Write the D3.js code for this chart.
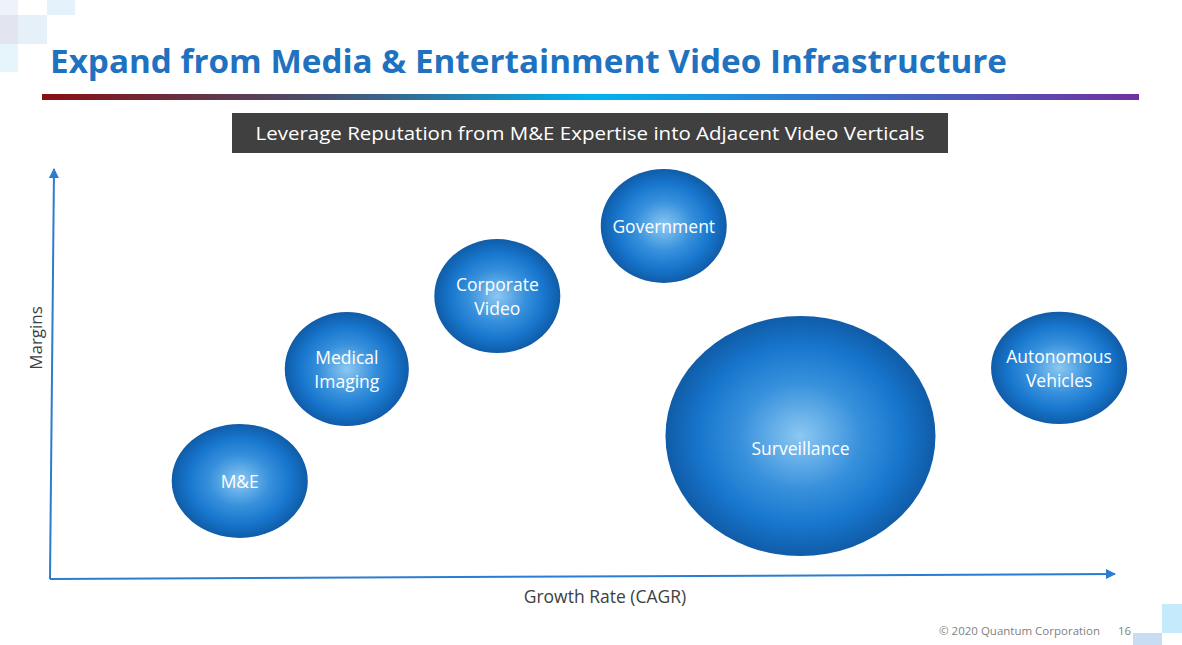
<!DOCTYPE html>
<html>
<head>
<meta charset="utf-8">
<script src="https://cdn.jsdelivr.net/npm/d3@7"></script>
<style>
  body { margin: 0; background: #fff; }
  text { font-family: "Open Sans", "Noto Sans", sans-serif; }
</style>
</head>
<body>
<div id="plot"></div>
<script>
// bubble chart data
const names = ["M&E", "Medical Imaging", "Corporate Video", "Government", "Surveillance", "Autonomous Vehicles"];
const growth = [17.9, 28.0, 42.2, 57.9, 70.8, 95.2];   // x: Growth Rate (CAGR)
const margins = [23.8, 51.2, 69.1, 86.3, 34.8, 51.5];  // y: Margins
const sizeW = [5.67, 5.17, 5.25, 5.25, 11.25, 5.67];   // bubble width
const sizeH = [4.75, 4.75, 4.75, 4.75, 10, 4.67];      // bubble height

const w = 1182;
const h = 645;
const origin = {x: 50, y: 579};

const svg = d3.select("div#plot")
  .append("svg")
    .attr("width", w)
    .attr("height", h);

const defs = svg.append("defs");

const grad = defs.append("radialGradient")
    .attr("id", "bubble")
    .attr("cx", "50%").attr("cy", "50%").attr("r", "50%");
grad.append("stop").attr("offset", "0%").attr("stop-color", "#8cc8f2");
grad.append("stop").attr("offset", "45%").attr("stop-color", "#3790dc");
grad.append("stop").attr("offset", "75%").attr("stop-color", "#1776cd");
grad.append("stop").attr("offset", "100%").attr("stop-color", "#105ca8");

const line = defs.append("linearGradient")
    .attr("id", "rule")
    .attr("x1", "0%").attr("x2", "100%");
[["0%", "#8a0e12"], ["25%", "#4a4d6c"], ["50%", "#00b3f0"], ["75%", "#3d6ec8"], ["100%", "#7131a0"]]
  .forEach(s => line.append("stop").attr("offset", s[0]).attr("stop-color", s[1]));

const arrow = defs.append("marker")
    .attr("id", "arrow")
    .attr("viewBox", "0 0 10 10")
    .attr("refX", 9).attr("refY", 5)
    .attr("markerWidth", 5).attr("markerHeight", 5)
    .attr("markerUnits", "strokeWidth")
    .attr("orient", "auto");
arrow.append("path").attr("d", "M0,0L10,5L0,10Z").attr("fill", "#2a7dd0");

// corner squares
const squares = [
  [0, 0, 18, 15, "#eef3fa"], [47, 0, 28, 15, "#e4f3fb"],
  [0, 15, 18, 29, "#e2e5f0"], [18, 15, 29, 29, "#e5f0f9"],
  [0, 44, 18, 28, "#e6f4fb"],
  [1162, 604, 20, 29, "#c5eafc"], [1133, 633, 29, 12, "#c8dcf2"]
];
svg.selectAll("rect.sq")
  .data(squares)
  .enter().append("rect")
    .attr("class", "sq")
    .attr("x", d => d[0]).attr("y", d => d[1])
    .attr("width", d => d[2]).attr("height", d => d[3])
    .attr("fill", d => d[4]);

// title
svg.append("text")
    .attr("x", 50).attr("y", 73)
    .attr("font-size", 33)
    .attr("font-weight", "bold")
    .attr("fill", "#1f72c0")
    .attr("textLength", 957)
    .attr("lengthAdjust", "spacingAndGlyphs")
    .text("Expand from Media & Entertainment Video Infrastructure");

svg.append("rect")
    .attr("x", 42).attr("y", 94)
    .attr("width", 1097).attr("height", 6)
    .attr("fill", "url(#rule)");

// subtitle box
svg.append("rect")
    .attr("x", 232).attr("y", 113)
    .attr("width", 716).attr("height", 40)
    .attr("fill", "#404040");
svg.append("text")
    .attr("x", 590).attr("y", 140)
    .attr("text-anchor", "middle")
    .attr("font-size", 19)
    .attr("fill", "#fff")
    .attr("textLength", 669)
    .attr("lengthAdjust", "spacingAndGlyphs")
    .text("Leverage Reputation from M&E Expertise into Adjacent Video Verticals");

const xScale = d3.scaleLinear()
    .domain([0, 100])
    .range([50, 1110]);

const yScale = d3.scaleLinear()
    .domain([0, 100])
    .range([578, 170]);

const rScale = d3.scaleLinear()
    .domain([0, 10])
    .range([0, 120]);

// axes
svg.append("line")
    .attr("x1", origin.x).attr("y1", origin.y)
    .attr("x2", 1115).attr("y2", 574)
    .attr("stroke", "#2a7dd0").attr("stroke-width", 2)
    .attr("marker-end", "url(#arrow)");
svg.append("line")
    .attr("x1", origin.x).attr("y1", origin.y)
    .attr("x2", 54).attr("y2", 169)
    .attr("stroke", "#2a7dd0").attr("stroke-width", 2)
    .attr("marker-end", "url(#arrow)");

svg.append("text")
    .attr("x", 605).attr("y", 603)
    .attr("text-anchor", "middle")
    .attr("font-size", 17.5)
    .attr("fill", "#404040")
    .text("Growth Rate (CAGR)");
svg.append("text")
    .attr("transform", "translate(42,338) rotate(-90)")
    .attr("text-anchor", "middle")
    .attr("font-size", 17)
    .attr("fill", "#404040")
    .text("Margins");

// bubbles
const data = names.map((n, i) => ({name: n, x: growth[i], y: margins[i], sw: sizeW[i], sh: sizeH[i]}));

const g = svg.append("g")
  .selectAll("g")
  .data(data)
  .enter().append("g")
    .attr("transform", d => `translate(${xScale(d.x)},${yScale(d.y)})`);

g.append("ellipse")
    .attr("rx", d => rScale(d.sw))
    .attr("ry", d => rScale(d.sh))
    .attr("fill", "url(#bubble)");

g.append("text")
    .attr("text-anchor", "middle")
    .attr("font-size", 17.5)
    .attr("fill", "#fff")
    .each(function(d) {
      const words = d.name === "M&E" ? [d.name] : d.name.split(" ");
      const t = d3.select(this);
      // the big bubble's label sits a little below its centre
      const shift = d.name === "Surveillance" ? 13 : 1;
      const start = -(words.length - 1) * 12 + 6 + shift;
      words.forEach((wd, i) => {
        t.append("tspan").attr("x", 0).attr("y", start + i * 24).text(wd);
      });
    });

// footer
svg.append("text")
    .attr("x", 1100).attr("y", 635)
    .attr("text-anchor", "end")
    .attr("font-size", 11.5)
    .attr("fill", "#7f7f7f")
    .text("© 2020 Quantum Corporation");
svg.append("text")
    .attr("x", 1118).attr("y", 635)
    .attr("font-size", 11.5)
    .attr("fill", "#7f7f7f")
    .text("16");
</script>
</body>
</html>
